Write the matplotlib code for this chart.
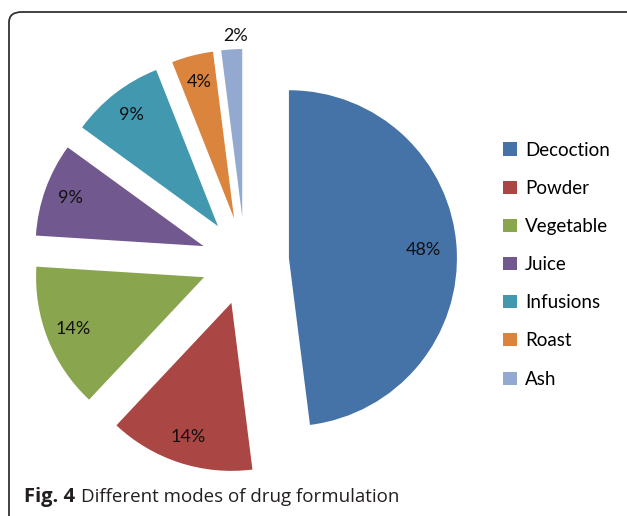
import matplotlib
matplotlib.use("Agg")
import matplotlib.pyplot as plt
from matplotlib.patches import FancyBboxPatch
import numpy as np

modes = ["Decoction", "Powder", "Vegetable", "Juice", "Infusions", "Roast", "Ash"]
shares = [48, 14, 14, 9, 9, 4, 2]
colors = ["#4572A7", "#AA4643", "#89A54E", "#71588F", "#4198AF", "#DB843D", "#93A9CF"]

W, H = 627, 516
R = 168.0               # pie radius in pixels
cx, cy = 245, 261       # pie centre, pixels from top-left
EXPL = 0.262

fig = plt.figure(figsize=(W / 100, H / 100), dpi=100)
ax = fig.add_axes([0, 0, 1, 1])

wedges, texts, autotexts = ax.pie(
    shares, colors=colors, startangle=90, counterclock=False,
    radius=1.0, explode=[EXPL] * len(shares),
    autopct="%d%%", pctdistance=0.84,
    textprops=dict(fontsize=13, family="Lato", color="#111111"),
    wedgeprops=dict(linewidth=0),
)

# the smallest share gets its label outside the slice
ang = np.deg2rad(90 - 360 * (sum(shares[:-1]) + shares[-1] / 2) / 100)
autotexts[-1].set_position(((1 + EXPL + 0.08) * np.cos(ang) + 0.03,
                            (1 + EXPL + 0.08) * np.sin(ang)))
# the large slice label sits a little closer to the tip
ang0 = np.deg2rad(90 - 360 * shares[0] / 200)
autotexts[0].set_position(((EXPL + 0.80) * np.cos(ang0),
                           (EXPL + 0.80) * np.sin(ang0)))

ax.set_xlim(-cx / R, (W - cx) / R)
ax.set_ylim(-(H - cy) / R, cy / R)
ax.set_aspect("equal")
ax.axis("off")

leg = ax.legend(wedges, modes, loc="upper left",
                bbox_to_anchor=(496 / W, 1 - 134 / H), bbox_transform=fig.transFigure,
                frameon=False, prop=dict(family="Lato", size=13.5),
                handlelength=0.7, handleheight=0.7, handletextpad=0.45,
                labelspacing=1.13, borderaxespad=0)

# rounded frame around the figure panel
frame = FancyBboxPatch((9 / W, -10 / H), (W + 20 - 9) / W, (H - 12 + 10) / H,
                       boxstyle="round,pad=0,rounding_size=0.02",
                       transform=fig.transFigure, fill=False,
                       edgecolor="#333333", linewidth=1.3)
fig.patches.append(frame)

# caption: bold figure number followed by the title
cap_y = 1 - 497 / H
fig_no = fig.text(24 / W, cap_y, "Fig. 4", fontsize=14.5, fontweight="bold",
                  family="Open Sans", color="#231f20", va="center")
renderer = fig.canvas.get_renderer()
bb = fig_no.get_window_extent(renderer)
fig.text((bb.x1 + 6) / W, cap_y, "Different modes of drug formulation", fontsize=13.5,
         family="Open Sans", color="#231f20", va="center")

fig.savefig("out.png", dpi=100)
